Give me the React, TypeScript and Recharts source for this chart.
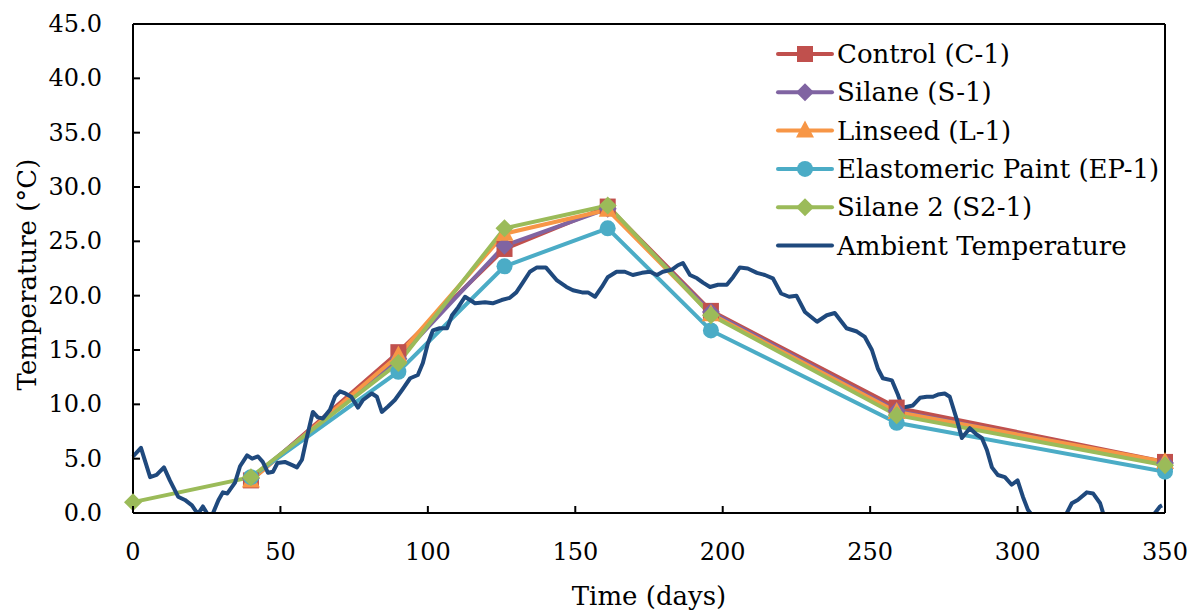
import { LineChart, Line, XAxis, YAxis, ReferenceLine, Legend } from 'recharts'

// sample days for the coated specimens
const DAYS = [40, 90, 126, 161, 196, 259, 350]
const S2_DAYS = [0, 40, 90, 126, 161, 196, 259, 350]

const CONTROL = [3.0, 14.8, 24.3, 28.2, 18.6, 9.7, 4.7]
const SILANE = [3.2, 14.2, 24.6, 28.0, 18.5, 9.4, 4.6]
const LINSEED = [3.0, 14.5, 25.7, 27.9, 18.3, 9.3, 4.7]
const ELASTOMERIC = [3.3, 13.0, 22.7, 26.2, 16.8, 8.3, 3.8]
const SILANE2 = [1.0, 3.3, 13.8, 26.2, 28.3, 18.2, 9.0, 4.4]

const AMBIENT_DAYS = [
  0, 2.7, 5.8, 8, 10.5, 12.5, 15.3, 17.6, 20, 22, 23.7, 25.5, 27, 29, 30.5, 32, 34.6, 36.3, 38.7,
  40.4, 42.4, 44, 45.8, 47.5, 49, 51.5, 54, 55.6, 57.3, 59, 61, 62.7, 64.4, 66.8, 68.5, 70.2, 72,
  74, 76.3, 78, 81, 82.7, 84.4, 86.5, 88.8, 91.2, 94, 96.6, 98.3, 100, 101.7, 104, 106.5, 108.2,
  110.2, 112.6, 116, 119.4, 122, 125, 127.8, 130, 132.2, 134.6, 137, 140, 143.8, 147, 149.2, 152.3,
  154.3, 156.7, 159, 161, 164, 166.8, 169.5, 172.6, 175.3, 177.7, 179.7, 182.8, 184.8, 186.5,
  188.9, 191.3, 193.3, 195.7, 198.4, 201.4, 203.5, 205.8, 208.5, 211.6, 214.3, 217, 219.8, 222.5,
  225, 227.9, 232, 235.3, 238, 242, 245.5, 248.2, 250.6, 252.6, 254.3, 257.4, 259.4, 261, 264.5,
  266.9, 269.2, 271.3, 273, 275.3, 277, 279.4, 281.1, 283.8, 286.2, 287.9, 289.6, 291.3, 293.3,
  295.7, 298, 300, 301.8, 303.5, 306, 309, 312, 315, 316.7, 318.4, 320.4, 323.5, 325.6, 328, 329,
  332, 336, 340, 344, 346.6, 348.3, 349,
]
const AMBIENT_TEMP = [
  5.2, 6.0, 3.3, 3.5, 4.2, 3.0, 1.5, 1.2, 0.7, -0.1, 0.6, -0.2, -0.1, 1.2, 1.9, 1.8, 2.8, 4.3, 5.3,
  5.0, 5.2, 4.7, 3.7, 3.8, 4.6, 4.7, 4.4, 4.2, 4.9, 7.0, 9.3, 8.8, 8.7, 9.5, 10.7, 11.2, 11.0,
  10.7, 9.7, 10.4, 11.0, 10.7, 9.3, 9.8, 10.4, 11.3, 12.4, 12.7, 13.8, 15.6, 16.8, 17.0, 17.0, 18.2,
  18.9, 19.9, 19.3, 19.4, 19.3, 19.6, 19.8, 20.3, 21.2, 22.2, 22.6, 22.6, 21.4, 20.8, 20.5, 20.3,
  20.3, 19.9, 20.8, 21.7, 22.2, 22.2, 21.9, 22.1, 22.2, 21.9, 22.2, 22.4, 22.8, 23.0,
  21.9, 21.6, 21.2, 20.8, 21.0, 21.0, 21.7, 22.6, 22.5, 22.1, 21.9, 21.6, 20.2, 19.9,
  20.0, 18.5, 17.6, 18.2, 18.4, 17.0, 16.7, 16.2, 15.0, 13.3, 12.4, 12.2, 10.9, 9.7, 9.9,
  10.6, 10.7, 10.7, 10.9, 11.0, 10.7, 8.6, 6.9, 7.8, 7.2, 6.9, 5.8, 4.2, 3.5,
  3.3, 2.6, 3.0, 1.5, 0.3, -0.6, -1.2, -1.5, -0.8, 0.0, 0.9, 1.2, 1.9, 1.8, 0.9, 0.0,
  -1.0, -1.8, -2.0, -1.0, 0.0, 0.6, 0.7,
]

const X_TICKS = [0, 50, 100, 150, 200, 250, 300, 350]
const Y_TICKS = [0, 5, 10, 15, 20, 25, 30, 35, 40, 45]

// Times isn't installed here, DejaVu Serif is the closest serif we have
const FONT = 'DejaVu Serif'

const toPoints = (days: number[], vals: number[]) => days.map((d, i) => ({ day: d, value: vals[i] }))

type MarkerKind = 'square' | 'diamond' | 'triangle' | 'circle' | 'none'

function markerShape(kind: MarkerKind, cx: number, cy: number, color: string, key?: string) {
  if (kind === 'square') return <rect key={key} x={cx - 8} y={cy - 8} width={16} height={16} fill={color} />
  if (kind === 'diamond')
    return <path key={key} d={`M${cx},${cy - 9}L${cx + 9},${cy}L${cx},${cy + 9}L${cx - 9},${cy}Z`} fill={color} />
  if (kind === 'triangle')
    return <path key={key} d={`M${cx},${cy - 10}L${cx + 9},${cy + 7}L${cx - 9},${cy + 7}Z`} fill={color} />
  if (kind === 'circle') return <circle key={key} cx={cx} cy={cy} r={8} fill={color} />
  return null
}

const SERIES = [
  { name: 'Control (C-1)', color: '#C0504D', marker: 'square' as MarkerKind, data: toPoints(DAYS, CONTROL) },
  { name: 'Silane (S-1)', color: '#8064A2', marker: 'diamond' as MarkerKind, data: toPoints(DAYS, SILANE) },
  { name: 'Linseed (L-1)', color: '#F79646', marker: 'triangle' as MarkerKind, data: toPoints(DAYS, LINSEED) },
  { name: 'Elastomeric Paint (EP-1)', color: '#4BACC6', marker: 'circle' as MarkerKind, data: toPoints(DAYS, ELASTOMERIC) },
  { name: 'Silane 2 (S2-1)', color: '#9BBB59', marker: 'diamond' as MarkerKind, data: toPoints(S2_DAYS, SILANE2) },
]
const AMBIENT = { name: 'Ambient Temperature', color: '#1F497D', marker: 'none' as MarkerKind }

function XTick(props: any) {
  const { x, y, payload } = props
  return (
    <g>
      <line x1={x} y1={y} x2={x} y2={y - 7} stroke="#000" strokeWidth={2} />
      <text x={x} y={y + 39} textAnchor="middle" dominantBaseline="central" fontFamily={FONT} fontSize={24} fill="#000">
        {payload.value}
      </text>
    </g>
  )
}

function YTick(props: any) {
  const { x, y, payload } = props
  return (
    <g>
      <line x1={x} y1={y} x2={x + 7} y2={y} stroke="#000" strokeWidth={2} />
      <text x={x - 31} y={y} textAnchor="end" dominantBaseline="central" fontFamily={FONT} fontSize={24} fill="#000">
        {Number(payload.value).toFixed(1)}
      </text>
    </g>
  )
}

function LegendBox() {
  const rows = [...SERIES, AMBIENT]
  return (
    <svg width={400} height={236}>
      {rows.map((s, i) => {
        const cy = 19 + i * 38.3
        return (
          <g key={s.name}>
            <line x1={3} y1={cy} x2={57} y2={cy} stroke={s.color} strokeWidth={4} strokeLinecap="round" />
            {markerShape(s.marker, 30, cy, s.color)}
            <text x={62} y={cy} dominantBaseline="central" fontFamily={FONT} fontSize={26} fill="#000">
              {s.name}
            </text>
          </g>
        )
      })}
    </svg>
  )
}

export default function App() {
  return (
    <div style={{ position: 'absolute', left: 0, top: 0, background: '#fff' }}>
      <LineChart width={1197} height={611} margin={{ top: 24, right: 32, left: 0, bottom: 0 }}>
        <XAxis
          dataKey="day"
          type="number"
          domain={[0, 350]}
          ticks={X_TICKS}
          height={98}
          axisLine={{ stroke: '#000', strokeWidth: 2 }}
          tickLine={false}
          tickSize={0}
          tickMargin={0}
          tick={<XTick />}
          interval={0}
          allowDuplicatedCategory={false}
          label={{
            content: (p: any) => (
              <text
                x={p.viewBox.x + p.viewBox.width / 2}
                y={p.viewBox.y + 83}
                textAnchor="middle"
                dominantBaseline="central"
                fontFamily={FONT}
                fontSize={26}
                fill="#000"
              >
                Time (days)
              </text>
            ),
          }}
        />
        <YAxis
          type="number"
          domain={[0, 45]}
          ticks={Y_TICKS}
          width={133}
          axisLine={{ stroke: '#000', strokeWidth: 2 }}
          tickLine={false}
          tickSize={0}
          tickMargin={0}
          tick={<YTick />}
          interval={0}
          label={{
            content: (p: any) => {
              const cx = p.viewBox.x + 27
              const cy = p.viewBox.y + p.viewBox.height / 2 + 6
              return (
                <text
                  x={cx}
                  y={cy}
                  transform={`rotate(-90, ${cx}, ${cy})`}
                  textAnchor="middle"
                  dominantBaseline="central"
                  fontFamily={FONT}
                  fontSize={26}
                  fill="#000"
                >
                  Temperature (°C)
                </text>
              )
            },
          }}
        />
        <YAxis yAxisId="amb" type="number" domain={[0, 45]} allowDataOverflow hide />
        <ReferenceLine y={45} stroke="#000" strokeWidth={2} />
        <ReferenceLine x={350} stroke="#000" strokeWidth={2} />
        {SERIES.map((s) => (
          <Line
            key={s.name}
            data={s.data}
            dataKey="value"
            name={s.name}
            stroke={s.color}
            strokeWidth={4}
            isAnimationActive={false}
            dot={(p: any) => markerShape(s.marker, p.cx, p.cy, s.color, `${s.name}-${p.index}`)}
            activeDot={false}
          />
        ))}
        <Line
          data={toPoints(AMBIENT_DAYS, AMBIENT_TEMP)}
          yAxisId="amb"
          dataKey="value"
          name={AMBIENT.name}
          stroke={AMBIENT.color}
          strokeWidth={4}
          strokeLinejoin="round"
          dot={false}
          activeDot={false}
          isAnimationActive={false}
        />
        <Legend
          layout="horizontal"
          verticalAlign="middle"
          align="center"
          content={() => <LegendBox />}
          wrapperStyle={{ position: 'absolute', left: 775, top: 35, width: 400, height: 236 }}
        />
      </LineChart>
    </div>
  )
}
